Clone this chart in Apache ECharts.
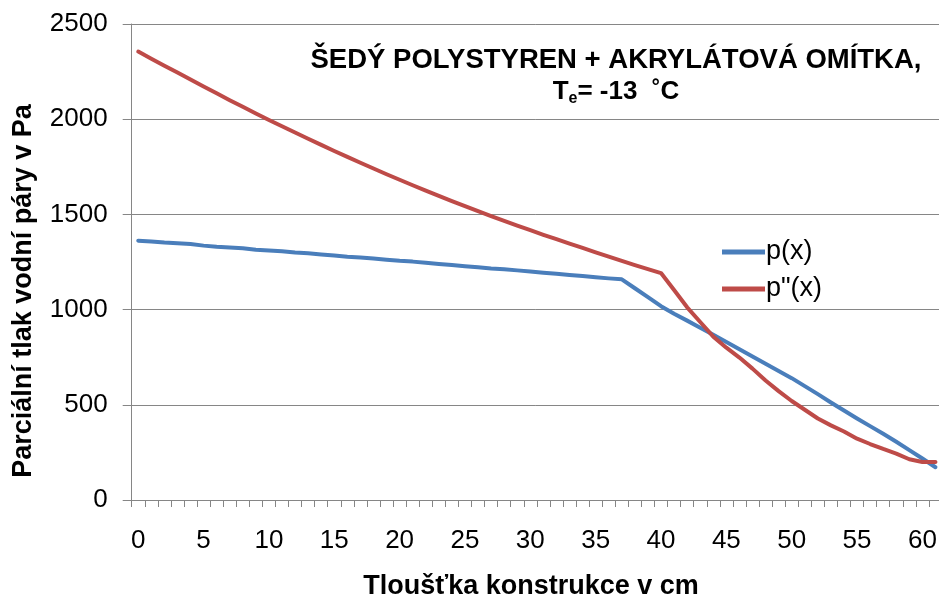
<!DOCTYPE html>
<html>
<head>
<meta charset="utf-8">
<script src="https://cdn.jsdelivr.net/npm/echarts@6/dist/echarts.min.js"></script>
<style>
  html, body { margin: 0; padding: 0; background: #fff; overflow: hidden; }
  #chart { width: 939px; height: 605px; }
</style>
</head>
<body>
<div id="chart"></div>
<script>
// Thickness through the wall, cm
const thickness = Array.from({ length: 62 }, (_, i) => String(i));

// Partial vapour pressure p(x), Pa
const pressure = [
  1362, 1358, 1352, 1348, 1344, 1336, 1330, 1326, 1322, 1314,
  1310, 1306, 1300, 1296, 1290, 1284, 1278, 1274, 1268, 1262,
  1256, 1252, 1246, 1240, 1234, 1228, 1222, 1216, 1212, 1206,
  1200, 1194, 1188, 1182, 1176, 1170, 1164, 1159, 1112, 1065,
  1018, 978, 942, 905, 868, 830, 792, 754, 716, 678,
  640, 598, 556, 512, 470, 428, 388, 348, 306, 262,
  218, 172
];

// Saturated vapour pressure p"(x), Pa
const saturation = [
  2355, 2318, 2281, 2245, 2208, 2172, 2136, 2100, 2065, 2030,
  1996, 1963, 1930, 1897, 1865, 1833, 1802, 1771, 1741, 1711,
  1682, 1653, 1625, 1597, 1570, 1543, 1517, 1491, 1466, 1441,
  1417, 1393, 1370, 1347, 1324, 1301, 1278, 1256, 1234, 1213,
  1192, 1103, 1012, 935, 858, 800, 748, 690, 628, 572,
  520, 474, 428, 392, 360, 322, 294, 268, 244, 214,
  200, 200
];

const seriesNames = ['p(x)', 'p"(x)'];
const titleLine1 = 'ŠEDÝ POLYSTYREN + AKRYLÁTOVÁ OMÍTKA,';
const yAxisTitle = 'Parciální tlak vodní páry v Pa';
const xAxisTitle = 'Tloušťka konstrukce v cm';

const FONT = '"Liberation Sans", Arial, sans-serif';
const GRID_GRAY = '#868686';

const chart = echarts.init(document.getElementById('chart'), null, { renderer: 'canvas' });

chart.setOption({
  animation: false,
  backgroundColor: '#fff',
  textStyle: { fontFamily: FONT },
  title: {
    left: 611,
    top: 40,
    textAlign: 'center',
    text: '{t|' + titleLine1 + '}\n{u|T}{sub|e}{u|= -13  ˚C}',
    textStyle: {
      rich: {
        t: { fontFamily: FONT, fontWeight: 'bold', fontSize: 27.5, color: '#000', lineHeight: 31 },
        u: { fontFamily: FONT, fontWeight: 'bold', fontSize: 26, color: '#000', lineHeight: 31 },
        sub: { fontFamily: FONT, fontWeight: 'bold', fontSize: 16, color: '#000', lineHeight: 31, padding: [14, 0, 0, 0] }
      }
    }
  },
  legend: {
    orient: 'vertical',
    left: 717,
    top: 232,
    itemWidth: 43,
    itemHeight: 5,
    itemGap: 7,
    icon: 'rect',
    textStyle: { fontFamily: FONT, fontSize: 27, color: '#000', lineHeight: 30, padding: [0, 0, 0, -4] },
    data: seriesNames
  },
  grid: { left: 131.7, right: -3, top: 24, bottom: 105, outerBoundsMode: 'none', containLabel: false },
  xAxis: {
    type: 'category',
    data: thickness,
    boundaryGap: true,
    axisLine: { lineStyle: { color: GRID_GRAY, width: 1 } },
    axisTick: { show: true, interval: 0, length: 7, lineStyle: { color: GRID_GRAY } },
    axisLabel: { interval: 4, margin: 28, fontFamily: FONT, fontSize: 26, color: '#000', lineHeight: 26, padding: [0, 0, 0, 0] },
    splitLine: { show: false }
  },
  yAxis: {
    type: 'value',
    min: 0,
    max: 2500,
    interval: 500,
    axisLine: { show: true, lineStyle: { color: GRID_GRAY, width: 1 } },
    axisTick: { show: true, length: 9, lineStyle: { color: GRID_GRAY } },
    axisLabel: { margin: 24, fontFamily: FONT, fontSize: 26, color: '#000', formatter: (v) => String(v) },
    splitLine: { show: true, lineStyle: { color: GRID_GRAY, width: 1 } }
  },
  graphic: [
    {
      type: 'text',
      x: 24,
      y: 291,
      rotation: Math.PI / 2,
      style: {
        text: yAxisTitle,
        font: 'bold 27px ' + FONT,
        fill: '#000',
        align: 'center',
        verticalAlign: 'middle'
      }
    },
    {
      type: 'text',
      x: 531,
      y: 587,
      style: {
        text: xAxisTitle,
        font: 'bold 27px ' + FONT,
        fill: '#000',
        align: 'center',
        verticalAlign: 'middle'
      }
    }
  ],
  series: [
    {
      name: seriesNames[0],
      type: 'line',
      data: pressure,
      showSymbol: false,
      symbol: 'none',
      lineStyle: { color: '#4A7EBB', width: 4, cap: 'round', join: 'round' },
      itemStyle: { color: '#4A7EBB' }
    },
    {
      name: seriesNames[1],
      type: 'line',
      data: saturation,
      showSymbol: false,
      symbol: 'none',
      lineStyle: { color: '#BE4B48', width: 4, cap: 'round', join: 'round' },
      itemStyle: { color: '#BE4B48' }
    }
  ]
});
</script>
</body>
</html>
